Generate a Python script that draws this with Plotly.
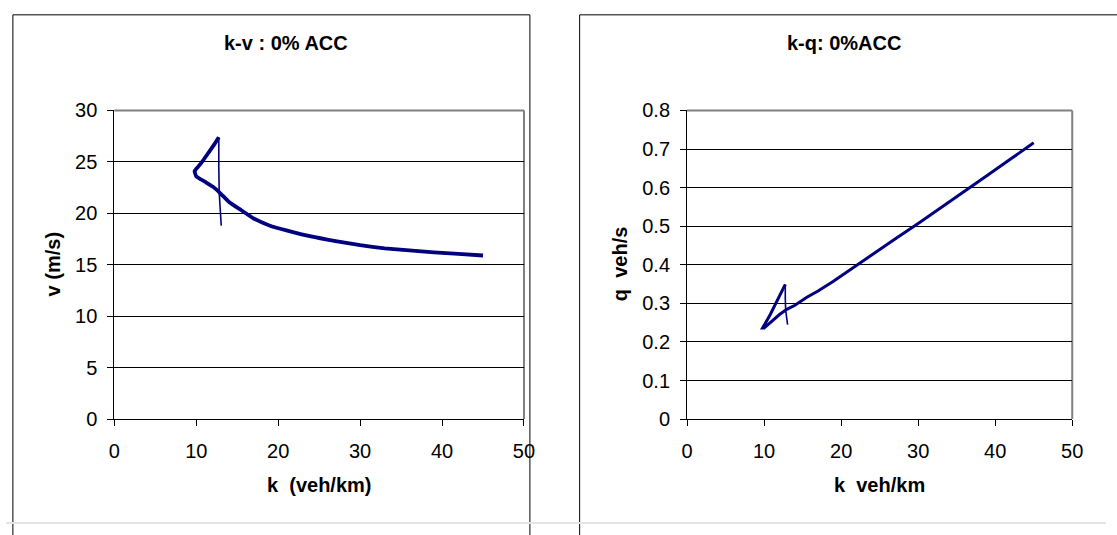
import plotly.graph_objects as go

# ---- data ----
k_vals = [13.05, 12.95, 12.8, 12.75, 12.75, 12.2, 11.5, 10.8, 10.2, 9.8, 10.0, 11.0, 12.0,
          13.0, 14.0, 15.5, 17.0, 19.0, 21.0, 24.0, 27.0, 30.0, 33.0, 36.0, 39.0, 42.0, 45.0]
v_vals = [18.8, 20.0, 22.0, 24.5, 27.4, 26.7, 25.9, 25.1, 24.5, 24.1, 23.6, 23.1, 22.6,
          21.9, 21.1, 20.3, 19.5, 18.8, 18.35, 17.75, 17.3, 16.9, 16.6, 16.4, 16.2, 16.05, 15.9]
q_vals = [0.245, 0.259, 0.282, 0.312, 0.349, 0.326, 0.298, 0.271, 0.250, 0.236, 0.236, 0.254, 0.271,
          0.285, 0.295, 0.315, 0.332, 0.357, 0.385, 0.426, 0.467, 0.507, 0.548, 0.590, 0.632, 0.674, 0.716]
THIN_END = 5  # first points form the thin rising segment

x_ticks = [0, 10, 20, 30, 40, 50]
v_ticks = [0, 5, 10, 15, 20, 25, 30]
q_ticks = [0, 0.1, 0.2, 0.3, 0.4, 0.5, 0.6, 0.7, 0.8]

W, H = 1117, 535
NAVY = "#000080"
FONT = "Liberation Sans, Arial, sans-serif"

def px(x):
    return x / W

def py(y):
    return (H - y) / H

fig = go.Figure()

# left chart
fig.add_trace(go.Scatter(x=k_vals[:THIN_END], y=v_vals[:THIN_END], mode="lines",
                         line=dict(color=NAVY, width=1.6), xaxis="x", yaxis="y", showlegend=False))
fig.add_trace(go.Scatter(x=k_vals[THIN_END - 1:], y=v_vals[THIN_END - 1:], mode="lines",
                         line=dict(color=NAVY, width=3.8, shape="spline", smoothing=0.4),
                         xaxis="x", yaxis="y", showlegend=False))
# right chart
fig.add_trace(go.Scatter(x=k_vals[:THIN_END], y=q_vals[:THIN_END], mode="lines",
                         line=dict(color=NAVY, width=1.6), xaxis="x2", yaxis="y2", showlegend=False))
fig.add_trace(go.Scatter(x=k_vals[THIN_END - 1:], y=q_vals[THIN_END - 1:], mode="lines",
                         line=dict(color=NAVY, width=3.0),
                         xaxis="x2", yaxis="y2", showlegend=False))

y_dom = [py(425.6), py(103.7)]
xl = [px(110), px(526)]
xr = [px(691.6), px(1082.7)]

tickfont = dict(family=FONT, size=20, color="black")
common_x = dict(range=[0, 50], tickvals=x_ticks, showgrid=False, zeroline=False,
                showline=True, linecolor="black", linewidth=1, ticks="outside",
                ticklen=6, tickcolor="black", tickfont=tickfont, fixedrange=True,
                ticklabelstandoff=8)
common_y = dict(showgrid=True, gridcolor="black", gridwidth=1, zeroline=False,
                showline=True, linecolor="black", linewidth=1, ticks="outside",
                ticklen=6, tickcolor="black", tickfont=tickfont, fixedrange=True,
                ticklabelstandoff=6)

fig.update_layout(
    width=W, height=H, autosize=False,
    margin=dict(l=0, r=0, t=0, b=0),
    paper_bgcolor="white", plot_bgcolor="white",
    showlegend=False,
    xaxis=dict(domain=xl, anchor="y", **common_x),
    yaxis=dict(domain=y_dom, anchor="x", range=[0, 30], tickvals=v_ticks, **common_y),
    xaxis2=dict(domain=xr, anchor="y2", **common_x),
    yaxis2=dict(domain=y_dom, anchor="x2", range=[0, 0.8], tickvals=q_ticks,
                ticktext=[("0" if t == 0 else f"{t:.1f}") for t in q_ticks], **common_y),
)

shapes = []
# panel borders
shapes.append(dict(type="rect", xref="paper", yref="paper", x0=px(7), x1=px(532),
                   y0=-0.2, y1=py(4), line=dict(color="black", width=1), layer="below"))
shapes.append(dict(type="rect", xref="paper", yref="paper", x0=px(582.5), x1=1.2,
                   y0=-0.2, y1=py(4), line=dict(color="black", width=1), layer="below"))
# plot area top/right gray borders
for xd in ["x", "x2"]:
    yd = "y" if xd == "x" else "y2"
    shapes.append(dict(type="line", xref=f"{xd} domain", yref=f"{yd} domain",
                       x0=0, x1=1, y0=1, y1=1, line=dict(color="#808080", width=2), layer="below"))
    shapes.append(dict(type="line", xref=f"{xd} domain", yref=f"{yd} domain",
                       x0=1, x1=1, y0=0, y1=1, line=dict(color="#808080", width=2), layer="below"))
# bottom light strip
shapes.append(dict(type="rect", xref="paper", yref="paper", x0=0, x1=1, y0=0, y1=py(533),
                   fillcolor="#e4e4e4", line=dict(width=0), layer="above"))
fig.update_layout(shapes=shapes)

bold = dict(family=FONT, size=20, color="black")
ann = [
    dict(text="<b>k-v : 0% ACC</b>", x=px(284), y=py(33)),
    dict(text="<b>k-q: 0%ACC</b>", x=px(851), y=py(33)),
    dict(text="<b>k\u00a0\u00a0(veh/km)</b>", x=px(318), y=py(494)),
    dict(text="<b>k\u00a0\u00a0veh/km</b>", x=px(887), y=py(494)),
    dict(text="<b>v (m/s)</b>", x=px(47.5), y=py(264.5), textangle=-90),
    dict(text="<b>q\u00a0\u00a0veh/s</b>", x=px(623), y=py(264.5), textangle=-90),
]
for a in ann:
    a.update(xref="paper", yref="paper", xanchor="center", yanchor="middle",
             showarrow=False, font=bold)
fig.update_layout(annotations=ann)

fig.write_html("out.html", config={"displayModeBar": False},
               post_script="document.body.style.margin='0';document.body.style.overflow='hidden';")
